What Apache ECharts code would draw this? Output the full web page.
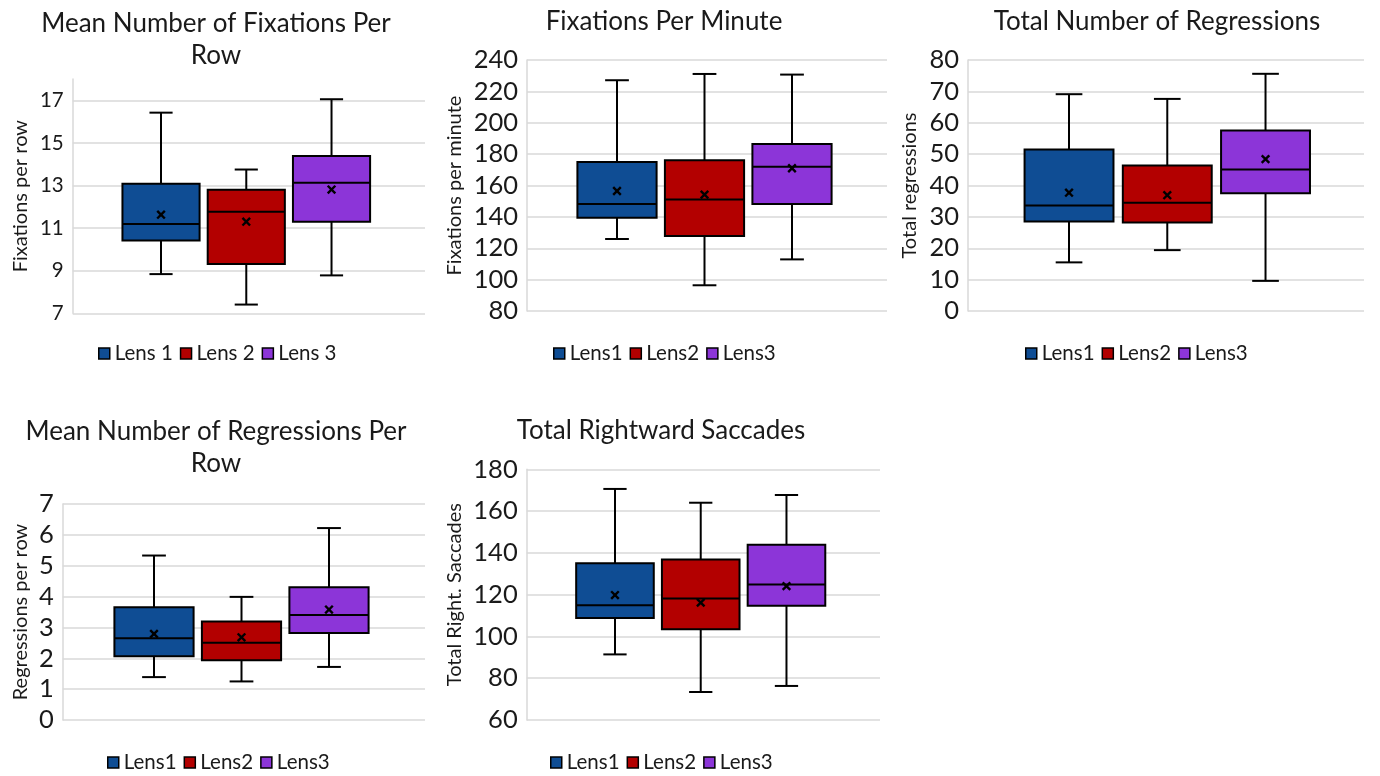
<!DOCTYPE html>
<html><head><meta charset="utf-8">
<script src="https://cdn.jsdelivr.net/npm/echarts@6/dist/echarts.min.js"></script>
<style>html,body{margin:0;padding:0;background:#fff}#c{width:1380px;height:776px}</style>
</head><body><div id="c"></div>
<script>
// ---------- DATA ----------
const lensColors = ['#0F4D94', '#B30000', '#8C35D8'];

// Panel 1: Mean Number of Fixations Per Row
const p1Names  = ['Lens 1', 'Lens 2', 'Lens 3'];
const p1Min    = [8.84, 7.41, 8.78];
const p1Q1     = [10.42, 9.31, 11.3];
const p1Median = [11.19, 11.77, 13.13];
const p1Q3     = [13.08, 12.8, 14.38];
const p1Max    = [16.42, 13.75, 17.05];
const p1Mean   = [11.63, 11.3, 12.81];
const p1Ticks  = [7, 9, 11, 13, 15, 17];
const p1Range  = [7, 18];

// Panel 2: Fixations Per Minute
const p2Names  = ['Lens1', 'Lens2', 'Lens3'];
const p2Min    = [125.9, 96.4, 112.9];
const p2Q1     = [139.5, 127.8, 148.2];
const p2Median = [148.2, 151.0, 172.0];
const p2Q3     = [175.0, 176.1, 186.5];
const p2Max    = [227.1, 231.1, 230.7];
const p2Mean   = [156.5, 154.2, 171.0];
const p2Ticks  = [80, 100, 120, 140, 160, 180, 200, 220, 240];
const p2Range  = [80, 240];

// Panel 3: Total Number of Regressions
const p3Names  = ['Lens1', 'Lens2', 'Lens3'];
const p3Min    = [15.5, 19.4, 9.6];
const p3Q1     = [28.5, 28.2, 37.5];
const p3Median = [33.6, 34.5, 45.1];
const p3Q3     = [51.5, 46.4, 57.5];
const p3Max    = [69.1, 67.6, 75.6];
const p3Mean   = [37.7, 36.9, 48.4];
const p3Ticks  = [0, 10, 20, 30, 40, 50, 60, 70, 80];
const p3Range  = [0, 80];

// Panel 4: Mean Number of Regressions Per Row
const p4Names  = ['Lens1', 'Lens2', 'Lens3'];
const p4Min    = [1.39, 1.25, 1.72];
const p4Q1     = [2.07, 1.94, 2.82];
const p4Median = [2.65, 2.50, 3.40];
const p4Q3     = [3.65, 3.19, 4.30];
const p4Max    = [5.33, 3.99, 6.22];
const p4Mean   = [2.79, 2.68, 3.58];
const p4Ticks  = [0, 1, 2, 3, 4, 5, 6, 7];
const p4Range  = [0, 7];

// Panel 5: Total Rightward Saccades
const p5Names  = ['Lens1', 'Lens2', 'Lens3'];
const p5Min    = [91.4, 73.4, 76.3];
const p5Q1     = [108.8, 103.4, 114.7];
const p5Median = [114.9, 118.1, 124.9];
const p5Q3     = [135.0, 136.8, 143.9];
const p5Max    = [170.6, 164.0, 167.7];
const p5Mean   = [119.8, 116.2, 124.1];
const p5Ticks  = [60, 80, 100, 120, 140, 160, 180];
const p5Range  = [60, 180];

const titles = ['Mean Number of Fixations Per\nRow', 'Fixations Per Minute', 'Total Number of Regressions',
                'Mean Number of Regressions Per\nRow', 'Total Rightward Saccades'];
const yNames = ['Fixations per row', 'Fixations per minute', 'Total regressions',
                'Regressions per row', 'Total Right. Saccades'];

// ---------- LAYOUT / STYLE ----------
const FONT = 'Lato, "Open Sans", sans-serif';
const layouts = [
  {bg: {left: 72.7, top: 79, width: 352.3, height: 234.3}, box: {left: 118.4, width: 255.75},
   titleX: 216, titleY: 8, legendX: 98, legendY: 343, nameGap: 42, labelSize: 20.5},
  {bg: {left: 527, top: 60, width: 360, height: 251}, box: {left: 573.25, width: 262.5},
   titleX: 664, titleY: 6, legendX: 553, legendY: 343, nameGap: 62, labelSize: 25.5},
  {bg: {left: 968, top: 60, width: 396, height: 251}, box: {left: 1019.9, width: 294.75},
   titleX: 1157, titleY: 6, legendX: 1025, legendY: 343, nameGap: 48, labelSize: 25.5},
  {bg: {left: 62.7, top: 504, width: 362.3, height: 216}, box: {left: 110.25, width: 262.5},
   titleX: 216, titleY: 416, legendX: 107, legendY: 752, nameGap: 32, labelSize: 25.5},
  {bg: {left: 526.7, top: 469.3, width: 353.3, height: 250.7}, box: {left: 572.1, width: 257.25},
   titleX: 661, titleY: 415, legendX: 550, legendY: 752, nameGap: 62, labelSize: 25.5}
];
const BOX_FRAC = 0.905;

const panels = [
  {names: p1Names, min: p1Min, q1: p1Q1, med: p1Median, q3: p1Q3, max: p1Max, mean: p1Mean, ticks: p1Ticks, range: p1Range},
  {names: p2Names, min: p2Min, q1: p2Q1, med: p2Median, q3: p2Q3, max: p2Max, mean: p2Mean, ticks: p2Ticks, range: p2Range},
  {names: p3Names, min: p3Min, q1: p3Q1, med: p3Median, q3: p3Q3, max: p3Max, mean: p3Mean, ticks: p3Ticks, range: p3Range},
  {names: p4Names, min: p4Min, q1: p4Q1, med: p4Median, q3: p4Q3, max: p4Max, mean: p4Mean, ticks: p4Ticks, range: p4Range},
  {names: p5Names, min: p5Min, q1: p5Q1, med: p5Median, q3: p5Q3, max: p5Max, mean: p5Mean, ticks: p5Ticks, range: p5Range}
];

function renderBox(params, api) {
  const c = api.value(0);
  const pMin = api.coord([c, api.value(1)]);
  const pQ1 = api.coord([c, api.value(2)]);
  const pMed = api.coord([c, api.value(3)]);
  const pQ3 = api.coord([c, api.value(4)]);
  const pMax = api.coord([c, api.value(5)]);
  const pMean = api.coord([c, api.value(6)]);
  const bw = api.size([1, 0])[0] * BOX_FRAC;
  const cap = bw * 0.3;
  const x = pMin[0];
  const color = api.visual('color');
  const ls = {stroke: '#000', lineWidth: 2};
  const m = 3.8;
  return {
    type: 'group',
    children: [
      {type: 'line', shape: {x1: x, y1: pMax[1], x2: x, y2: pQ3[1]}, style: ls},
      {type: 'line', shape: {x1: x - cap / 2, y1: pMax[1], x2: x + cap / 2, y2: pMax[1]}, style: ls},
      {type: 'line', shape: {x1: x, y1: pMin[1], x2: x, y2: pQ1[1]}, style: ls},
      {type: 'line', shape: {x1: x - cap / 2, y1: pMin[1], x2: x + cap / 2, y2: pMin[1]}, style: ls},
      {type: 'rect', shape: {x: x - bw / 2, y: pQ3[1], width: bw, height: pQ1[1] - pQ3[1]},
       style: {fill: color, stroke: '#000', lineWidth: 2}},
      {type: 'line', shape: {x1: x - bw / 2, y1: pMed[1], x2: x + bw / 2, y2: pMed[1]}, style: ls},
      {type: 'line', shape: {x1: pMean[0] - m, y1: pMean[1] - m, x2: pMean[0] + m, y2: pMean[1] + m}, style: {stroke: '#000', lineWidth: 2.4}},
      {type: 'line', shape: {x1: pMean[0] - m, y1: pMean[1] + m, x2: pMean[0] + m, y2: pMean[1] - m}, style: {stroke: '#000', lineWidth: 2.4}}
    ]
  };
}

const option = {
  backgroundColor: '#fff',
  animation: false,
  title: [], legend: [], grid: [], xAxis: [], yAxis: [], series: []
};

panels.forEach((p, k) => {
  const L = layouts[k];
  option.title.push({
    text: titles[k], left: L.titleX, top: L.titleY, textAlign: 'center', padding: 0,
    textStyle: {fontFamily: FONT, fontSize: 26, fontWeight: 'normal', color: '#1a1a1a', lineHeight: 32}
  });
  option.legend.push({
    left: L.legendX, top: L.legendY, padding: 0, itemGap: 7, itemWidth: 11, itemHeight: 11,
    icon: 'rect', selectedMode: false,
    textStyle: {fontFamily: FONT, fontSize: 20.5, color: '#1a1a1a'},
    data: p.names.map((n, i) => ({name: n, itemStyle: {color: lensColors[i], borderColor: '#000', borderWidth: 1.5}}))
  });
  const gBg = option.grid.length;
  option.grid.push({left: L.bg.left, top: L.bg.top, width: L.bg.width, height: L.bg.height, containLabel: false});
  const gBox = option.grid.length;
  option.grid.push({left: L.box.left, top: L.bg.top, width: L.box.width, height: L.bg.height, containLabel: false});

  option.xAxis.push({type: 'category', gridIndex: gBg, data: [''], show: false});
  option.yAxis.push({
    type: 'value', gridIndex: gBg, min: p.range[0], max: p.range[1],
    interval: p.ticks[1] - p.ticks[0],
    name: yNames[k], nameLocation: 'middle', nameGap: L.nameGap,
    nameTextStyle: {fontFamily: FONT, fontSize: 20, color: '#1a1a1a'},
    axisLine: {show: true, lineStyle: {color: '#d9d9d9', width: 1.5}},
    axisTick: {show: false, customValues: p.ticks},
    axisLabel: {customValues: p.ticks, fontFamily: FONT, fontSize: L.labelSize, color: '#1a1a1a', margin: 9},
    splitLine: {show: true, lineStyle: {color: '#d9d9d9', width: 1.5}}
  });
  const yBox = option.yAxis.length;
  option.yAxis.push({type: 'value', gridIndex: gBox, min: p.range[0], max: p.range[1], show: false, splitLine: {show: false}});

  p.names.forEach((n, i) => {
    const xi = option.xAxis.length;
    option.xAxis.push({type: 'category', gridIndex: gBox, data: p.names, show: false});
    option.series.push({
      type: 'custom', name: n, xAxisIndex: xi, yAxisIndex: yBox,
      itemStyle: {color: lensColors[i]},
      encode: {x: 0, y: [1, 2, 3, 4, 5, 6]},
      data: [[i, p.min[i], p.q1[i], p.med[i], p.q3[i], p.max[i], p.mean[i]]],
      renderItem: renderBox,
      clip: false
    });
  });
});

const chart = echarts.init(document.getElementById('c'), null, {renderer: 'canvas'});
chart.setOption(option);
</script>
</body></html>
